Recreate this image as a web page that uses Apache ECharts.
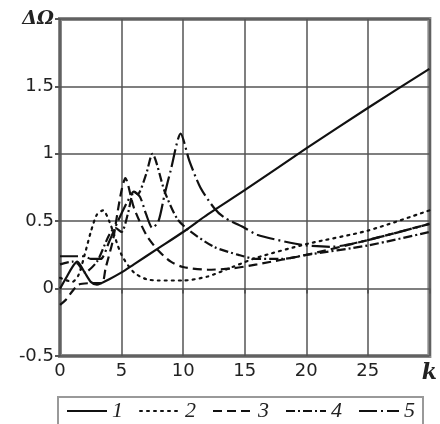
<!DOCTYPE html>
<html>
<head>
<meta charset="utf-8">
<script src="https://cdn.jsdelivr.net/npm/echarts@6/dist/echarts.min.js"></script>
<style>
  html, body { margin: 0; padding: 0; background: #fff; }
  #main { width: 440px; height: 424px; }
</style>
</head>
<body>
<div id="main"></div>
<script>
// curve 1 (solid)
var k1 = [0, 0.5, 1, 1.4, 2, 2.5, 3, 4, 5, 6, 8, 10, 12, 15, 20, 25, 30];
var v1 = [0, 0.08, 0.16, 0.2, 0.12, 0.05, 0.03, 0.07, 0.12, 0.18, 0.3, 0.42, 0.55, 0.73, 1.04, 1.34, 1.63];
// curve 2 (dotted)
var k2 = [0, 1, 1.5, 2, 2.5, 3, 3.5, 4, 5, 6, 7, 8, 10, 12, 14, 16, 20, 25, 30];
var v2 = [0.08, 0.05, 0.1, 0.25, 0.42, 0.55, 0.58, 0.5, 0.25, 0.12, 0.07, 0.06, 0.06, 0.09, 0.16, 0.23, 0.33, 0.43, 0.58];
// curve 3 (dashed)
var k3 = [0, 0.5, 1, 1.5, 2.5, 3.4, 3.7, 4.3, 4.7, 5, 5.3, 6, 7, 8, 9, 10, 12, 14, 16, 20, 25, 30];
var v3 = [-0.12, -0.08, -0.02, 0.03, 0.04, 0.04, 0.15, 0.36, 0.58, 0.73, 0.82, 0.6, 0.4, 0.28, 0.2, 0.16, 0.14, 0.15, 0.18, 0.25, 0.36, 0.48];
// curve 4 (dash-dot)
var k4 = [0, 1, 1.5, 2, 3, 4, 4.5, 5, 5.5, 6, 6.3, 7, 7.5, 8.5, 9.5, 10.5, 12.5, 14.5, 16, 18, 20, 25, 30];
var v4 = [0.18, 0.2, 0.18, 0.12, 0.2, 0.4, 0.45, 0.42, 0.55, 0.72, 0.7, 0.85, 1.0, 0.72, 0.52, 0.43, 0.31, 0.25, 0.22, 0.22, 0.25, 0.32, 0.42];
// curve 5 (long dash - dot)
var k5 = [0, 2, 2.5, 3.3, 4, 4.7, 5.5, 6, 6.5, 7, 7.5, 8, 8.5, 9, 9.8, 10.5, 11.4, 12.5, 13.3, 15, 16, 18.7, 20, 22, 25, 30];
var v5 = [0.24, 0.24, 0.22, 0.22, 0.35, 0.5, 0.65, 0.72, 0.68, 0.55, 0.45, 0.5, 0.7, 0.88, 1.15, 0.95, 0.75, 0.6, 0.53, 0.45, 0.4, 0.34, 0.32, 0.31, 0.36, 0.48];

var names = ['1', '2', '3', '4', '5'];
var dashes = [null, [2, 5], [9, 5], [9, 3, 2, 3], [18, 4, 2, 4]];
var ks = [k1, k2, k3, k4, k5];
var vs = [v1, v2, v3, v4, v5];

function pairs(k, v) {
    var out = [];
    for (var i = 0; i < k.length; i++) out.push([k[i], v[i]]);
    return out;
}

var series = [];
for (var i = 0; i < names.length; i++) {
    series.push({
        name: names[i],
        type: 'line',
        symbol: 'none',
        smooth: 0.25,
        itemStyle: { color: '#111' },
        lineStyle: {
            color: '#111',
            width: 2.2,
            type: dashes[i] ? dashes[i] : 'solid',
            cap: i == 1 ? 'round' : 'butt'
        },
        data: pairs(ks[i], vs[i])
    });
}

var chart = echarts.init(document.getElementById('main'));
var option = {
    animation: false,
    grid: {
        left: 60, right: 10, top: 19, bottom: 68,
        show: true,
        borderColor: '#888',
        borderWidth: 4
    },
    legend: {
        left: 58,
        top: 397,
        padding: [3, 8, 10, 8],
        borderColor: '#999',
        borderWidth: 2,
        borderRadius: 0,
        itemGap: 16,
        itemWidth: 40,
        itemHeight: 10,
        itemStyle: { opacity: 0 },
        textStyle: {
            fontFamily: 'Liberation Serif',
            fontStyle: 'italic',
            fontSize: 22,
            color: '#222'
        },
        data: names
    },
    xAxis: {
        type: 'value',
        min: 0,
        max: 30,
        interval: 5,
        axisLine: { show: false },
        axisTick: { show: true, length: 5, lineStyle: { color: '#555', width: 2 } },
        splitLine: { show: true, lineStyle: { color: '#555', width: 1.5 } },
        axisLabel: {
            fontFamily: 'DejaVu Sans',
            fontSize: 18,
            color: '#222',
            margin: 6,
            showMinLabel: true,
            showMaxLabel: true,
            formatter: function (v) { return v === 30 ? '{k|k}' : String(v); },
            rich: {
                k: { fontFamily: 'DejaVu Serif', fontStyle: 'italic', fontWeight: 'bold', fontSize: 22, color: '#222' }
            }
        }
    },
    yAxis: {
        type: 'value',
        min: -0.5,
        max: 2,
        interval: 0.5,
        axisLine: { show: false },
        axisTick: { show: true, length: 5, lineStyle: { color: '#555', width: 2 } },
        splitLine: { show: true, lineStyle: { color: '#555', width: 1.5 } },
        axisLabel: {
            fontFamily: 'DejaVu Sans',
            fontSize: 18,
            color: '#222',
            margin: 6,
            showMinLabel: true,
            showMaxLabel: true,
            formatter: function (v) {
                if (v === 2) return '{t|ΔΩ}';
                return v === -0.5 ? '-0.5' : String(v);
            },
            rich: {
                t: { fontFamily: 'DejaVu Serif', fontStyle: 'italic', fontWeight: 'bold', fontSize: 19, color: '#222' }
            }
        }
    },
    series: series
};
chart.setOption(option);
</script>
</body>
</html>
